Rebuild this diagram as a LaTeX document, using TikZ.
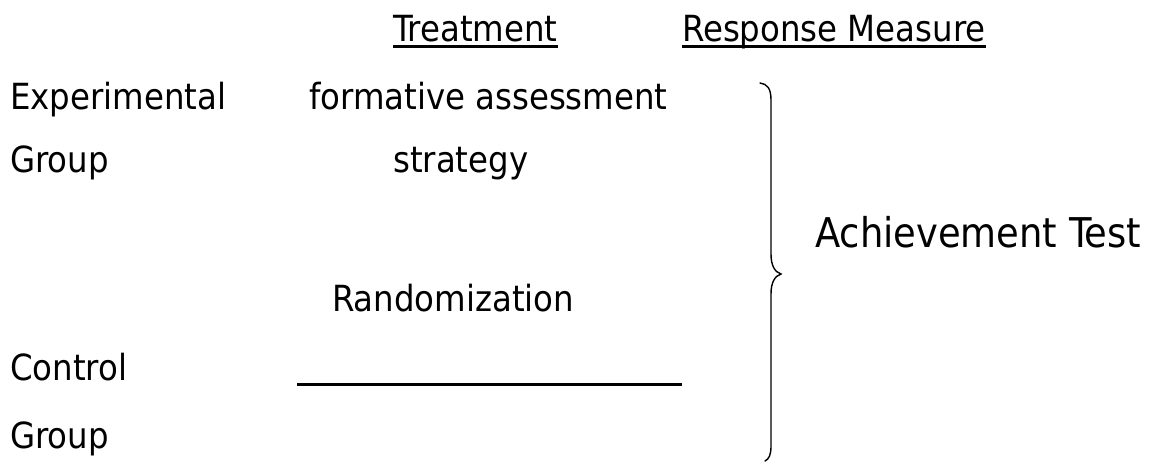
\documentclass[tikz,border=0pt]{standalone}
\usepackage{fontspec}
\setmainfont{DejaVu Sans Condensed}
\begin{document}
\begin{tikzpicture}[x=1pt,y=-1pt,
  lbl/.style={inner sep=0pt,anchor=base west,font=\fontsize{36}{40}\selectfont},
  biglbl/.style={inner sep=0pt,anchor=base west,font=\fontsize{41}{46}\selectfont},
  uline/.style={line width=2.5pt},
  rule/.style={line width=3pt},
  bracestyle/.style={line width=1.4pt,line cap=round}]
\useasboundingbox (0,0) rectangle (1159,462);
\node[lbl] (treat) at (393,42) {Treatment};
\node[lbl] (resp) at (682,42) {Response Measure};
\draw[uline] ([yshift=-4.5pt]treat.base west) -- ([yshift=-4.5pt]treat.base east);
\draw[uline] ([yshift=-4.5pt]resp.base west) -- ([yshift=-4.5pt]resp.base east);
\node[lbl] (exp1) at (10,110) {Experimental};
\node[lbl] (grp1) at (10,173) {Group};
\node[lbl] (fa) at (309,110) {formative assessment};
\node[lbl] (strat) at (393,173) {strategy};
\node[biglbl] (ach) at (815,248) {Achievement Test};
\node[lbl] (rand) at (332,312) {Randomization};
\node[lbl] (ctrl) at (10,380) {Control};
\node[lbl] (grp2) at (10,448) {Group};
\coordinate (la) at (297,384);
\coordinate (lb) at (682,384);
\draw[rule] (la) -- (lb);
\coordinate (btop) at (760,83);
\coordinate (btip) at (781,274);
\coordinate (bbot) at (765,461);
\draw[bracestyle] (btop) .. controls (767,84) and (771,88) .. (771,100)
  -- (771,254) .. controls (771,266) and (775,272) .. (btip)
  .. controls (775,276) and (771,282) .. (771,294)
  -- (771,446) .. controls (771,455) and (769,459) .. (bbot);
\end{tikzpicture}
\end{document}
